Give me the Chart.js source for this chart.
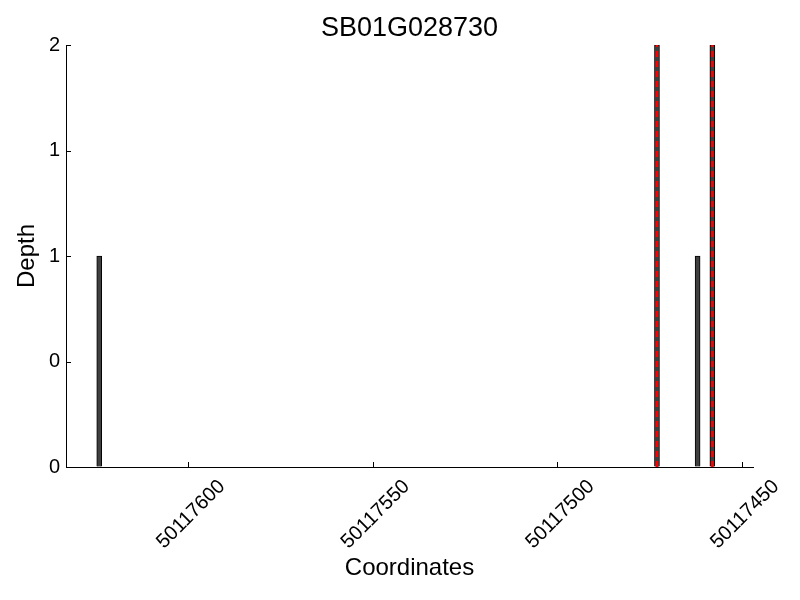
<!DOCTYPE html>
<html>
<head>
<meta charset="utf-8">
<script src="https://cdn.jsdelivr.net/npm/chart.js@4/dist/chart.umd.min.js"></script>
<style>
  html, body { margin: 0; padding: 0; background: #fff; }
  #wrap { width: 800px; height: 600px; }
</style>
</head>
<body>
<div id="wrap"><canvas id="depthChart" width="800" height="600"></canvas></div>
<script>
// datos del grafico
const titulo = 'SB01G028730';
const posiciones = [50117624, 50117473, 50117462, 50117458];
const profundidad = [1, 2, 1, 2];
const marcadas = [50117473, 50117458]; // lineas rojas discontinuas
const xTicks = [50117600, 50117550, 50117500, 50117450];
const yTicks = [0, 0.5, 1, 1.5, 2];
const xMin = 50117447;
const xMax = 50117633;

const fuente = 'Liberation Sans, Arial, sans-serif';

// puntos de las barras
const barras = posiciones.map((p, i) => ({ x: p, y: profundidad[i] }));

// un dataset de linea por cada posicion marcada
const lineas = marcadas.map(p => ({
  type: 'line',
  data: [{ x: p, y: 0 }, { x: p, y: Math.max(...profundidad) }],
  borderColor: '#ff0000',
  borderWidth: 2.5,
  borderDash: [6, 4],
  pointRadius: 0,
  fill: false,
  order: 0
}));

// marcas de los ticks hacia dentro + titulo centrado sobre el area del grafico
const ticksDentro = {
  id: 'ticksDentro',
  afterLayout(chart) {
    const t = chart.titleBlock;
    if (t) {
      t.left = chart.chartArea.left;
      t.right = chart.chartArea.right;
    }
  },
  afterDraw(chart) {
    const c = chart.ctx;
    const xs = chart.scales.x, ys = chart.scales.y;
    c.save();
    c.strokeStyle = '#000';
    c.lineWidth = 1;
    c.beginPath();
    xs.ticks.forEach(t => {
      const px = Math.round(xs.getPixelForValue(t.value)) + 0.5;
      c.moveTo(px, ys.bottom);
      c.lineTo(px, ys.bottom - 5);
    });
    ys.ticks.forEach(t => {
      const py = Math.round(ys.getPixelForValue(t.value)) + 0.5;
      c.moveTo(xs.left, py);
      c.lineTo(xs.left + 5, py);
    });
    c.stroke();
    c.restore();
  }
};

const ctx = document.getElementById('depthChart');

new Chart(ctx, {
  type: 'bar',
  data: {
    datasets: [
      {
        data: barras,
        backgroundColor: '#404040',
        borderColor: '#000000',
        borderWidth: 1,
        barThickness: 5,
        order: 1
      },
      ...lineas
    ]
  },
  plugins: [ticksDentro],
  options: {
    responsive: false,
    animation: false,
    layout: { padding: { left: 0, right: 47, top: 0, bottom: 0 } },
    plugins: {
      legend: { display: false },
      tooltip: { enabled: false },
      title: {
        display: true,
        text: titulo,
        color: '#000',
        font: { family: fuente, size: 27, weight: 'normal' },
        padding: { top: 12, bottom: 0.6 }
      }
    },
    scales: {
      x: {
        type: 'linear',
        reverse: true,
        offset: false,
        min: xMin,
        max: xMax,
        afterBuildTicks: s => { s.ticks = xTicks.map(v => ({ value: v })); },
        afterFit: s => { s.height = 133; },
        grid: { drawOnChartArea: false, drawTicks: false, offset: false },
        border: { color: '#000', width: 1 },
        ticks: {
          color: '#000',
          font: { family: fuente, size: 20 },
          minRotation: 45,
          maxRotation: 45,
          labelOffset: 34,
          padding: 8,
          autoSkip: false,
          callback: v => String(v)
        },
        title: {
          display: true,
          text: 'Coordinates',
          color: '#000',
          font: { family: fuente, size: 24 },
          padding: { top: 0, bottom: 17 }
        }
      },
      y: {
        min: 0,
        max: 2,
        afterBuildTicks: s => { s.ticks = yTicks.map(v => ({ value: v })); },
        afterFit: s => { s.width = 66; },
        grid: { drawOnChartArea: false, drawTicks: false },
        border: { color: '#000', width: 1 },
        ticks: {
          color: '#000',
          font: { family: fuente, size: 20 },
          padding: 6,
          callback: v => String(Math.trunc(v))
        },
        title: {
          display: true,
          text: 'Depth',
          color: '#000',
          font: { family: fuente, size: 24 },
          padding: { top: 13, bottom: 0 }
        }
      }
    }
  }
});
</script>
</body>
</html>
